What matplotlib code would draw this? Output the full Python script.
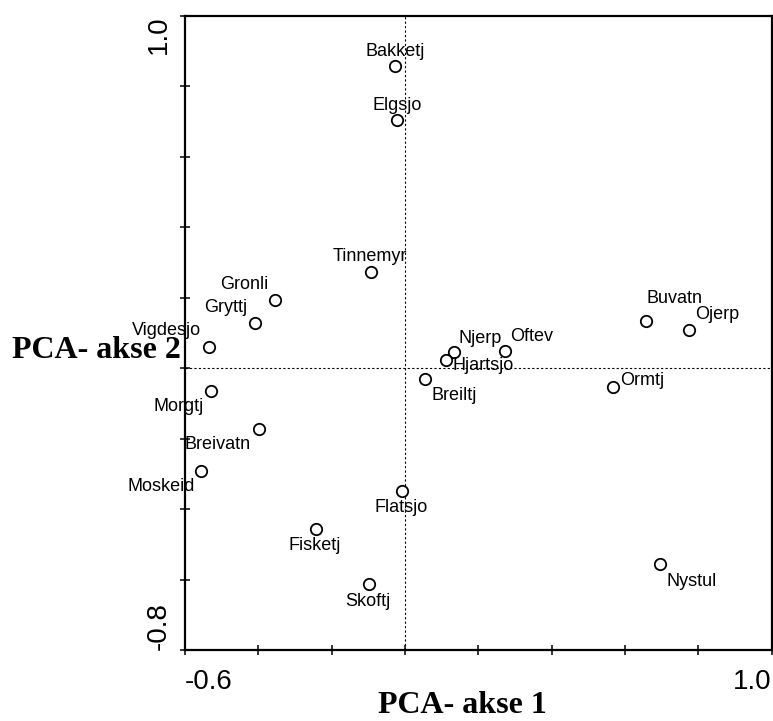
import numpy as np
from matplotlib import pyplot as plt

## PCA scores for the lakes

lakes = ['Bakketj', 'Elgsjo', 'Tinnemyr', 'Gronli', 'Gryttj', 'Vigdesjo',
         'Morgtj', 'Breivatn', 'Moskeid', 'Flatsjo', 'Fisketj', 'Skoftj',
         'Nystul', 'Njerp', 'Hjartsjo', 'Oftev', 'Breiltj', 'Ormtj',
         'Buvatn', 'Ojerp']
akse1 = [-0.027, -0.022, -0.093, -0.355, -0.409, -0.535,
         -0.529, -0.398, -0.556, -0.008, -0.243, -0.098,
         0.695, 0.134, 0.112, 0.273, 0.055, 0.567,
         0.657, 0.774]
akse2 = [0.857, 0.704, 0.272, 0.193, 0.129, 0.060,
         -0.065, -0.173, -0.292, -0.349, -0.457, -0.613,
         -0.556, 0.045, 0.023, 0.048, -0.031, -0.054,
         0.133, 0.108]

x_ticks = [-0.6, -0.4, -0.2, 0.0, 0.2, 0.4, 0.6, 0.8, 1.0]
y_ticks = [-0.8, -0.6, -0.4, -0.2, 0.0, 0.2, 0.4, 0.6, 0.8, 1.0]

# label offsets from the point, in pixels (dx right, dy up)
label_offset = {
	'Bakketj': (0, 15), 'Elgsjo': (0, 15), 'Tinnemyr': (-1, 16),
	'Gronli': (-31, 16), 'Gryttj': (-29, 15), 'Vigdesjo': (-42, 16),
	'Morgtj': (-32, -16), 'Breivatn': (-41, -15), 'Moskeid': (-40, -16),
	'Flatsjo': (-1, -16), 'Fisketj': (-1, -16), 'Skoftj': (-1, -17),
	'Nystul': (32, -17), 'Njerp': (26, 14), 'Hjartsjo': (37, -6),
	'Oftev': (27, 15), 'Breiltj': (29, -16), 'Ormtj': (29, 7),
	'Buvatn': (29, 23), 'Ojerp': (29, 16),
}

def main():
	fig = plt.figure(figsize=(7.73, 7.21), dpi=100)
	ax = fig.add_axes([0.2393, 0.0985, 0.7588, 0.8797])

	ax.axhline(0, color='black', lw=0.8, ls=(0, (2, 2)), zorder=1)
	ax.axvline(0, color='black', lw=0.8, ls=(0, (2, 2)), zorder=1)

	ax.plot(akse1, akse2, 'o', ms=8.2, mfc='white', mec='black', mew=1.3,
			zorder=3)

	px2pt = 0.72
	for name, x, y in zip(lakes, akse1, akse2):
		dx, dy = label_offset[name]
		ax.annotate(name, (x, y), xytext=(dx * px2pt, dy * px2pt),
					textcoords='offset points', ha='center', va='center',
					family='Liberation Sans', fontsize=13, zorder=4)

	ax.set_xlim(-0.6, 1.0)
	ax.set_ylim(-0.8, 1.0)

	xl = ['' for t in x_ticks]
	xl[0], xl[-1] = '-0.6', '1.0'
	yl = ['' for t in y_ticks]
	yl[0], yl[-1] = '-0.8', '1.0'
	ax.set_xticks(x_ticks, xl)
	ax.set_yticks(y_ticks, yl)
	ax.tick_params(direction='inout', length=7, width=1.1, labelsize=20)
	ax.tick_params(axis='x', pad=10)
	ax.tick_params(axis='y', pad=6)
	for lbl in ax.get_xticklabels():
		lbl.set_family('Liberation Sans')
	for lbl in ax.get_yticklabels():
		lbl.set_family('Liberation Sans')
		lbl.set_rotation(90)
	xlabels = ax.get_xticklabels()
	xlabels[0].set_ha('left')
	xlabels[-1].set_ha('right')
	ylabels = ax.get_yticklabels()
	for lbl in ylabels:
		lbl.set_ha('right')
	ylabels[0].set_va('bottom')
	ylabels[-1].set_va('top')

	for s in ax.spines.values():
		s.set_linewidth(1.6)

	fig.text(12 / 773, 1 - 358 / 721, 'PCA- akse 2', ha='left', va='baseline',
			 family='Liberation Serif', weight='bold', fontsize=23)
	fig.text(462 / 773, 1 - 713 / 721, 'PCA- akse 1', ha='center',
			 va='baseline', family='Liberation Serif', weight='bold',
			 fontsize=23)

	fig.savefig('out.png', dpi=100)

if __name__ == '__main__':
	main()
